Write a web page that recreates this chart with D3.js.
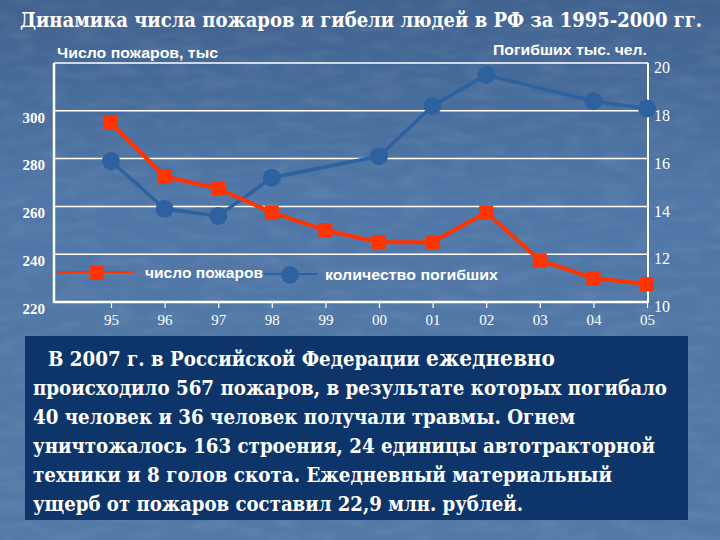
<!DOCTYPE html>
<html>
<head>
<meta charset="utf-8">
<script src="https://cdn.jsdelivr.net/npm/d3@7/dist/d3.min.js"></script>
<style>
	body { margin: 0; background: #4a6f9e; }
	svg { display: block; }
	.tick text { fill: #fff; }
	.serif { font-family: 'Liberation Serif', 'DejaVu Serif', serif; }
	.cyr { font-family: 'DejaVu Serif Condensed', 'DejaVu Serif', serif; font-stretch: condensed; }
	.sans { font-family: 'Liberation Sans', Arial, sans-serif; }
</style>
</head>
<body>
<div id="chart"></div>
<script>
var WIDTH = 720;
var HEIGHT = 540;

// годы
var years = ['95', '96', '97', '98', '99', '00', '01', '02', '03', '04', '05'];
// число пожаров, тыс
var fires = [295, 272.5, 267.5, 257.5, 250, 245, 245, 257.5, 237.5, 230, 227.5];
// погибших, тыс. чел. (нет точек за 99 и 03)
var deaths = [15.9, 13.9, 13.6, 15.2, null, 16.1, 18.2, 19.5, null, 18.4, 18.1];

var leftTicks = [220, 240, 260, 280, 300];
var rightTicks = [10, 12, 14, 16, 18, 20];

var title = 'Динамика числа пожаров и гибели людей в РФ за 1995-2000 гг.';
var leftTitle = 'Число пожаров, тыс';
var rightTitle = 'Погибших тыс. чел.';
var legendNames = ['число пожаров', 'количество погибших'];

var noteLines = [
	['В 2007 г. в Российской Федерации ', 'ежедневно'],
	['происходило 567 пожаров, в результате которых погибало'],
	['40 человек и 36 человек получали травмы. Огнем'],
	['уничтожалось 163 строения, 24 единицы автотракторной'],
	['техники и 8 голов скота. Ежедневный материальный'],
	['ущерб от пожаров составил 22,9 млн. рублей.']
];
// ширина строк в исходнике, px
var noteWidths = [507, 634, 542, 622, 579, 490];

var RED = '#ff3300';
var BLUE = '#2d61a0';

var plot = { left: 54, right: 648, top: 63, bottom: 302 };

function makeSVG() {
	var svg = d3.select('#chart').append('svg')
		.attr('width', WIDTH)
		.attr('height', HEIGHT);

	var defs = svg.append('defs');
	var grad = defs.append('linearGradient')
		.attr('id', 'bg')
		.attr('x1', 0).attr('y1', 0).attr('x2', 0).attr('y2', 1);
	grad.append('stop').attr('offset', '0%').attr('stop-color', '#40628f');
	grad.append('stop').attr('offset', '35%').attr('stop-color', '#4f76a6');
	grad.append('stop').attr('offset', '100%').attr('stop-color', '#5479a7');

	// лёгкая "мраморная" фактура фона
	var f = defs.append('filter').attr('id', 'grain')
		.attr('x', 0).attr('y', 0).attr('width', '100%').attr('height', '100%');
	f.append('feTurbulence')
		.attr('type', 'fractalNoise')
		.attr('baseFrequency', '0.03 0.09')
		.attr('numOctaves', 2)
		.attr('seed', 7);
	f.append('feColorMatrix')
		.attr('type', 'matrix')
		.attr('values', '0 0 0 0 1  0 0 0 0 1  0 0 0 0 1  0 0 0 0.5 -0.2');

	svg.append('rect')
		.attr('width', WIDTH)
		.attr('height', HEIGHT)
		.attr('fill', 'url(#bg)');
	svg.append('rect')
		.attr('width', WIDTH)
		.attr('height', HEIGHT)
		.attr('filter', 'url(#grain)')
		.attr('opacity', 0.3);

	return svg;
}

var svg = makeSVG();

var x = d3.scalePoint().domain(years).range([111, 647]);
var yL = d3.scaleLinear().domain([220, 320]).range([plot.bottom, plot.top]);
var yR = d3.scaleLinear().domain([10, 20]).range([plot.bottom, plot.top]);

// title
svg.append('text')
	.attr('class', 'cyr')
	.attr('x', 20)
	.attr('y', 27)
	.attr('fill', '#fff')
	.attr('font-weight', 'bold')
	.attr('font-size', 20)
	.attr('textLength', 682)
	.attr('lengthAdjust', 'spacingAndGlyphs')
	.text(title);

// grid
svg.append('g').selectAll('line')
	.data(leftTicks.concat([320]))
	.join('line')
	.attr('x1', plot.left)
	.attr('x2', plot.right)
	.attr('y1', function(d) { return yL(d); })
	.attr('y2', function(d) { return yL(d); })
	.attr('stroke', '#fff')
	.attr('stroke-width', function(d) { return d == 220 ? 2.5 : 1.5; });

// frame sides
svg.append('line')
	.attr('x1', plot.left).attr('x2', plot.left)
	.attr('y1', plot.top).attr('y2', plot.bottom + 1)
	.attr('stroke', '#fff').attr('stroke-width', 2.5);
svg.append('line')
	.attr('x1', plot.right).attr('x2', plot.right)
	.attr('y1', plot.top).attr('y2', plot.bottom + 1)
	.attr('stroke', '#fff').attr('stroke-width', 2);

// axes
var xAxis = svg.append('g')
	.attr('transform', 'translate(0,' + plot.bottom + ')')
	.call(d3.axisBottom(x).tickSize(6).tickPadding(6));
xAxis.select('.domain').remove();
xAxis.selectAll('.tick line').attr('stroke', '#fff').attr('stroke-width', 1.2);
xAxis.selectAll('.tick text')
	.attr('class', 'serif')
	.attr('font-size', 15);

var lAxis = svg.append('g')
	.attr('transform', 'translate(' + 45 + ',0)')
	.call(d3.axisLeft(yL).tickValues(leftTicks).tickSize(0).tickPadding(0));
lAxis.select('.domain').remove();
lAxis.selectAll('.tick text')
	.attr('class', 'serif')
	.attr('font-weight', 'bold')
	.attr('font-size', 15)
	.attr('dy', '0.75em');

var rAxis = svg.append('g')
	.attr('transform', 'translate(' + 654 + ',0)')
	.call(d3.axisRight(yR).tickValues(rightTicks).tickSize(0).tickPadding(0));
rAxis.select('.domain').remove();
rAxis.selectAll('.tick text')
	.attr('class', 'serif')
	.attr('font-size', 16)
	.attr('dy', '0.6em');

// axis titles
svg.append('text')
	.attr('class', 'sans')
	.attr('x', 57).attr('y', 58)
	.attr('fill', '#fff')
	.attr('font-size', 15)
	.attr('font-weight', 'bold')
	.attr('textLength', 161)
	.attr('lengthAdjust', 'spacingAndGlyphs')
	.text(leftTitle);
svg.append('text')
	.attr('class', 'sans')
	.attr('x', 493).attr('y', 55)
	.attr('fill', '#fff')
	.attr('font-size', 15)
	.attr('font-weight', 'bold')
	.attr('textLength', 154)
	.attr('lengthAdjust', 'spacingAndGlyphs')
	.text(rightTitle);

// deaths series
var deathPts = years.map(function(y, i) { return { year: y, v: deaths[i] }; })
	.filter(function(d) { return d.v != null; });

svg.append('path')
	.datum(deathPts)
	.attr('fill', 'none')
	.attr('stroke', BLUE)
	.attr('stroke-width', 3.5)
	.attr('d', d3.line()
		.x(function(d) { return x(d.year); })
		.y(function(d) { return yR(d.v); }));

svg.append('g').selectAll('circle')
	.data(deathPts)
	.join('circle')
	.attr('cx', function(d) { return x(d.year); })
	.attr('cy', function(d) { return yR(d.v); })
	.attr('r', 9)
	.attr('fill', BLUE);

// fires series
var firePts = years.map(function(y, i) { return { year: y, v: fires[i] }; });

svg.append('path')
	.datum(firePts)
	.attr('fill', 'none')
	.attr('stroke', RED)
	.attr('stroke-width', 4)
	.attr('d', d3.line()
		.x(function(d) { return x(d.year); })
		.y(function(d) { return yL(d.v); }));

svg.append('g').selectAll('rect')
	.data(firePts)
	.join('rect')
	.attr('x', function(d) { return x(d.year) - 7; })
	.attr('y', function(d) { return yL(d.v) - 7; })
	.attr('width', 14)
	.attr('height', 14)
	.attr('fill', RED);

// legend
var leg = svg.append('g');
leg.append('line')
	.attr('x1', 58).attr('x2', 134).attr('y1', 272).attr('y2', 272)
	.attr('stroke', RED).attr('stroke-width', 2);
leg.append('rect')
	.attr('x', 90).attr('y', 266).attr('width', 14).attr('height', 14)
	.attr('fill', RED);
leg.append('text')
	.attr('class', 'sans')
	.attr('x', 145).attr('y', 278)
	.attr('fill', '#fff')
	.attr('font-weight', 'bold').attr('font-size', 15)
	.attr('textLength', 118)
	.attr('lengthAdjust', 'spacingAndGlyphs')
	.text(legendNames[0]);
leg.append('line')
	.attr('x1', 264).attr('x2', 318).attr('y1', 274).attr('y2', 274)
	.attr('stroke', BLUE).attr('stroke-width', 2);
leg.append('circle')
	.attr('cx', 290).attr('cy', 275).attr('r', 9)
	.attr('fill', BLUE);
leg.append('text')
	.attr('class', 'sans')
	.attr('x', 325).attr('y', 280)
	.attr('fill', '#fff')
	.attr('font-weight', 'bold').attr('font-size', 15)
	.attr('textLength', 173)
	.attr('lengthAdjust', 'spacingAndGlyphs')
	.text(legendNames[1]);

// note box
svg.append('rect')
	.attr('x', 25).attr('y', 336)
	.attr('width', 663).attr('height', 184)
	.attr('fill', '#0e356a');

noteLines.forEach(function(parts, i) {
	var line = svg.append('text')
		.attr('class', 'cyr')
		.attr('fill', '#fff')
		.attr('font-weight', 'bold')
		.attr('font-size', 21)
		.attr('x', i == 0 ? 48 : 33)
		.attr('y', 366 + i * 29)
		.attr('textLength', noteWidths[i])
		.attr('lengthAdjust', 'spacingAndGlyphs');
	parts.forEach(function(p, j) {
		line.append('tspan')
			.attr('font-size', i == 0 ? (j == 0 ? 20 : 22) : 21)
			.text(p);
	});
});
</script>
</body>
</html>
